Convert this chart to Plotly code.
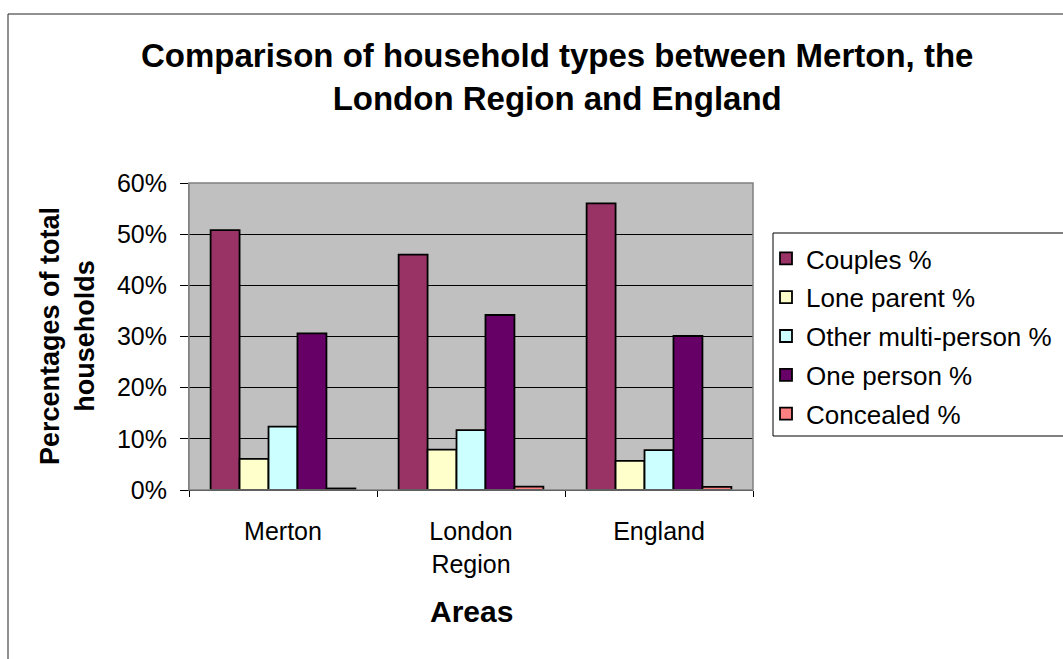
import plotly.graph_objects as go

W, H = 1063, 659

areas = ["Merton", "London<br>Region", "England"]
series_names = ["Couples %", "Lone parent %", "Other multi-person %", "One person %", "Concealed %"]
couples = [50.8, 46.0, 56.0]
lone_parent = [6.1, 7.9, 5.7]
other_multi = [12.4, 11.7, 7.8]
one_person = [30.6, 34.2, 30.1]
concealed = [0.3, 0.65, 0.6]
series_values = [couples, lone_parent, other_multi, one_person, concealed]
colors = ["#993366", "#FFFFCC", "#CCFFFF", "#660066", "#FF8080"]
y_ticks = [0, 10, 20, 30, 40, 50, 60]
y_tick_labels = ["0%", "10%", "20%", "30%", "40%", "50%", "60%"]

FONT = "Arial, Liberation Sans, sans-serif"

def px(x):
    return x / W

def py(y):
    return 1 - y / H

fig = go.Figure()
for i, (name, vals, col) in enumerate(zip(series_names, series_values, colors)):
    fig.add_trace(go.Bar(
        x=areas, y=vals, name=name, legendgroup=f"g{i}",
        marker=dict(color=col, line=dict(color="black", width=1.8)),
    ))

fig.update_layout(
    width=W, height=H,
    autosize=False,
    margin=dict(l=0, r=0, t=0, b=0, pad=0, autoexpand=False),
    paper_bgcolor="white",
    plot_bgcolor="#C0C0C0",
    barmode="group",
    bargap=0.23,
    bargroupgap=0,
    font=dict(family=FONT, color="black"),
    showlegend=True,
    legend=dict(
        x=px(766), y=py(235), xanchor="left", yanchor="top",
        font=dict(size=26, family=FONT),
        bgcolor="rgba(0,0,0,0)", borderwidth=0,
        tracegroupgap=2, traceorder="grouped",
        itemwidth=30,
    ),
    xaxis=dict(
        domain=[px(189), px(753)],
        type="category",
        tickson="boundaries",
        ticks="outside", ticklen=6, tickcolor="black",
        showline=True, linecolor="black", linewidth=1,
        tickfont=dict(size=25, family=FONT),
        ticklabelstandoff=19,
        showgrid=False,
        automargin=False,
    ),
    yaxis=dict(
        domain=[py(490), py(183)],
        range=[0, 60],
        tickvals=y_ticks, ticktext=y_tick_labels,
        ticks="outside", ticklen=8, tickcolor="black",
        showline=True, linecolor="#808080", linewidth=1,
        showgrid=True, gridcolor="black", gridwidth=1,
        zeroline=False,
        tickfont=dict(size=25, family=FONT),
        ticklabelstandoff=8,
        automargin=False,
    ),
    shapes=[
        # outer chart frame
        dict(type="rect", xref="paper", yref="paper",
             x0=px(8), x1=1.05, y0=-0.05, y1=py(14),
             line=dict(color="#222222", width=1), layer="below"),
        # plot area border
        dict(type="rect", xref="x domain", yref="y domain",
             x0=0, x1=1, y0=0, y1=1,
             line=dict(color="#808080", width=1.5), layer="above"),
        # legend box
        dict(type="rect", xref="paper", yref="paper",
             x0=px(773), x1=1.05, y0=py(436), y1=py(233),
             line=dict(color="black", width=1)),
    ],
    annotations=[
        dict(text="<b>Comparison of household types between Merton, the<br>London Region and England</b>",
             xref="paper", yref="paper", x=px(557), y=py(77),
             xanchor="center", yanchor="middle", showarrow=False,
             font=dict(size=33, family=FONT)),
        dict(text="<b>Percentages of total<br>households</b>", xref="paper", yref="paper",
             x=px(67), y=py(336), xanchor="center", yanchor="middle",
             textangle=-90, showarrow=False, font=dict(size=27, family=FONT)),
        dict(text="<b>Areas</b>", xref="paper", yref="paper",
             x=px(471), y=py(611), xanchor="center", yanchor="middle",
             showarrow=False, font=dict(size=30, family=FONT)),
    ],
)

fig.write_html("out.html")
